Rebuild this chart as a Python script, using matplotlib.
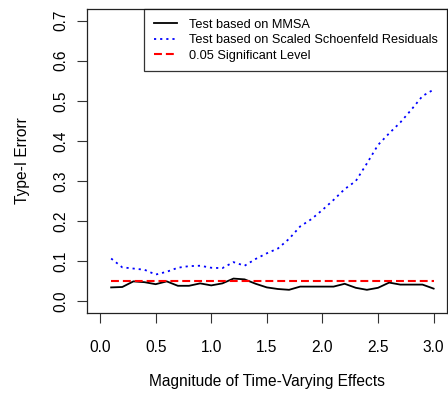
import matplotlib
matplotlib.use("Agg")
import matplotlib.pyplot as plt

plt.rcParams["font.family"] = ["Liberation Sans", "DejaVu Sans"]

# magnitude of time-varying effects
magnitude = [0.1, 0.2, 0.3, 0.4, 0.5, 0.6, 0.7, 0.8, 0.9, 1.0,
             1.1, 1.2, 1.3, 1.4, 1.5, 1.6, 1.7, 1.8, 1.9, 2.0,
             2.1, 2.2, 2.3, 2.4, 2.5, 2.6, 2.7, 2.8, 2.9, 3.0]

# type-I error, MMSA test
err_mmsa = [0.035, 0.036, 0.050, 0.048, 0.043, 0.050, 0.039, 0.039, 0.045, 0.040,
            0.045, 0.057, 0.055, 0.044, 0.035, 0.031, 0.029, 0.037, 0.037, 0.037,
            0.037, 0.044, 0.034, 0.029, 0.034, 0.047, 0.042, 0.042, 0.042, 0.032]

# type-I error, scaled Schoenfeld residuals test
err_schoen = [0.107, 0.085, 0.082, 0.079, 0.067, 0.074, 0.084, 0.088, 0.089, 0.084,
              0.083, 0.098, 0.089, 0.106, 0.120, 0.132, 0.156, 0.187, 0.205, 0.228,
              0.253, 0.280, 0.300, 0.344, 0.390, 0.419, 0.446, 0.478, 0.512, 0.528]

sig_level = 0.05
x_ticks = [0.0, 0.5, 1.0, 1.5, 2.0, 2.5, 3.0]
y_ticks = [0.0, 0.1, 0.2, 0.3, 0.4, 0.5, 0.6, 0.7]

fs_leg = 9.2
fs_ax = 11.2

fig = plt.figure(figsize=(4.48, 3.96), dpi=100)
ax = fig.add_axes([0.1935, 0.2104, 0.8042, 0.766])

ax.plot(magnitude, err_mmsa, color="black", lw=1.3, label="Test based on MMSA")
ax.plot(magnitude, err_schoen, color="blue", lw=1.3, linestyle=(0, (1.2, 2.2)),
        label="Test based on Scaled Schoenfeld Residuals")
ax.plot([magnitude[0], magnitude[-1]], [sig_level, sig_level], color="red", lw=1.5,
        linestyle=(0, (3.8, 1.9)), label="0.05 Significant Level")

ax.set_xlim(-0.12, 3.12)
ax.set_ylim(-0.028, 0.728)
ax.set_xticks(x_ticks)
ax.set_xticklabels([f"{v:.1f}" for v in x_ticks])
ax.set_yticks(y_ticks)
ax.set_yticklabels([f"{v:.1f}" for v in y_ticks], rotation=90, va="center")

ax.tick_params(axis="both", direction="out", length=7, width=0.8, labelsize=fs_ax,
               color="#333333")
ax.tick_params(axis="x", pad=12.5)
ax.tick_params(axis="y", pad=6)
for s in ax.spines.values():
    s.set_linewidth(0.9)
    s.set_color("#222222")

ax.set_xlabel("Magnitude of Time-Varying Effects", fontsize=fs_ax, labelpad=14)
ax.set_ylabel("Type-I Errorr", fontsize=fs_ax, labelpad=17)

leg = ax.legend(loc="upper right", fontsize=fs_leg, frameon=True, fancybox=False,
                borderaxespad=0, borderpad=0.75, handlelength=1.8,
                handletextpad=0.9, labelspacing=0.27)
leg.get_frame().set_edgecolor("black")
leg.get_frame().set_linewidth(0.9)

fig.savefig("out.png", dpi=100)
